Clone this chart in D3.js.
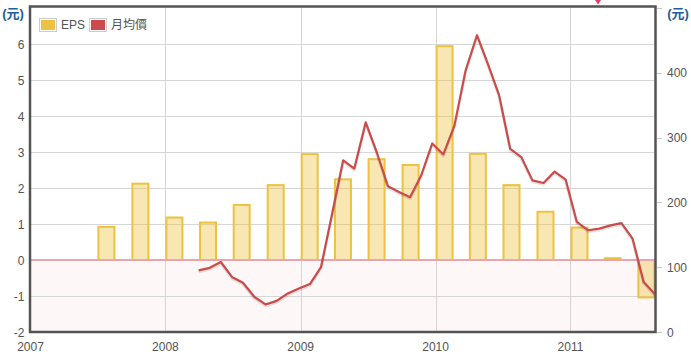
<!DOCTYPE html>
<html>
<head>
<meta charset="utf-8">
<script src="https://cdn.jsdelivr.net/npm/d3@7"></script>
<style>
  html, body { margin: 0; padding: 0; background: #fff; }
  svg { display: block; }
  text { font-family: "Liberation Sans", Arial, sans-serif; }
</style>
</head>
<body>
<svg id="chart" width="691" height="358"></svg>
<script>
// ---- data ----
const quarterStarts = ["2007-07-01","2007-10-01","2008-01-01","2008-04-01","2008-07-01","2008-10-01",
  "2009-01-01","2009-04-01","2009-07-01","2009-10-01","2010-01-01","2010-04-01","2010-07-01",
  "2010-10-01","2011-01-01","2011-04-01","2011-07-01"];
const epsValues = [0.92, 2.12, 1.18, 1.04, 1.53, 2.08, 2.94, 2.24, 2.80, 2.64, 5.94, 2.95, 2.08, 1.34, 0.90, 0.05, -1.04];

const priceDates = ["2008-03-31","2008-04-30","2008-05-30","2008-06-29","2008-07-29","2008-08-29",
  "2008-09-28","2008-10-28","2008-11-27","2008-12-27","2009-01-26","2009-02-25","2009-03-27",
  "2009-04-26","2009-05-26","2009-06-26","2009-07-26","2009-08-25","2009-09-24","2009-10-24",
  "2009-11-23","2009-12-23","2010-01-22","2010-02-21","2010-03-23","2010-04-23","2010-05-23",
  "2010-06-22","2010-07-22","2010-08-21","2010-09-20","2010-10-20","2010-11-19","2010-12-19",
  "2011-01-18","2011-02-18","2011-03-20","2011-04-19","2011-05-19","2011-06-18","2011-07-18",
  "2011-08-17"];
const priceValues = [95, 99, 108, 85, 76, 54, 42.5, 48, 59.5, 67, 74, 100, 182, 265, 252, 323.5,
  277, 225, 216, 208, 241.5, 291, 274, 318.5, 403, 458, 413, 365, 282.5, 270, 234, 230, 247.5,
  235, 170, 157, 159.5, 164.5, 168, 144, 77, 58.5];

const xTickYears = ["2007","2008","2009","2010","2011"];
const leftTicks = [-2, -1, 0, 1, 2, 3, 4, 5, 6];
const rightTicks = [0, 100, 200, 300, 400];
const rightTickMarks = [0, 100, 200, 300, 400, 500];
const unitLabel = "(元)";
const legendNames = ["EPS", "月均價"];

// ---- setup ----
const parse = d3.timeParse("%Y-%m-%d");
const svg = d3.select("#chart");
const L = 30.5, R = 655.5, T = 8, B = 332;

const x = d3.scaleTime().domain([parse("2007-01-01"), parse("2011-08-19")]).range([L, R]);
const yL = d3.scaleLinear().domain([-2, 7]).range([B, T]);
const yR = d3.scaleLinear().domain([0, 500]).range([B, T]);

const epsColor = "#edc240", priceColor = "#cb4b4b", axisColor = "#545454";

svg.append("defs").append("clipPath").attr("id", "plotclip")
  .append("rect").attr("x", L).attr("y", T - 2).attr("width", R - L).attr("height", B - T + 2);

const plot = svg.append("g").attr("clip-path", "url(#plotclip)");

// negative region marking
plot.append("rect")
  .attr("x", L).attr("width", R - L)
  .attr("y", yL(0)).attr("height", yL(-2) - yL(0))
  .attr("fill", "#fdf7f8");

// grid lines
plot.append("g").selectAll("line").data(leftTicks.filter(d => d > -2 && d !== 0))
  .join("line")
  .attr("x1", L).attr("x2", R)
  .attr("y1", d => Math.round(yL(d)) + 0.5).attr("y2", d => Math.round(yL(d)) + 0.5)
  .attr("stroke", "#d6d6d6").attr("stroke-width", 1);
plot.append("g").selectAll("line").data(xTickYears.slice(1))
  .join("line")
  .attr("x1", d => Math.round(x(parse(d + "-01-01"))) + 0.5)
  .attr("x2", d => Math.round(x(parse(d + "-01-01"))) + 0.5)
  .attr("y1", T).attr("y2", B)
  .attr("stroke", "#d6d6d6").attr("stroke-width", 1);

// bars
const barData = quarterStarts.map((q, i) => ({ d: parse(q), v: epsValues[i] }));
plot.append("g").selectAll("rect").data(barData).join("rect")
  .attr("x", d => x(d.d) + 1)
  .attr("width", 16)
  .attr("y", d => Math.min(yL(d.v), yL(0)))
  .attr("height", d => Math.abs(yL(d.v) - yL(0)))
  .attr("fill", epsColor).attr("fill-opacity", 0.4)
  .attr("stroke", epsColor).attr("stroke-width", 2);

// zero line marking
plot.append("line")
  .attr("x1", L).attr("x2", R)
  .attr("y1", yL(0)).attr("y2", yL(0))
  .attr("stroke", "#e8a5ad").attr("stroke-width", 2);

// price line
const priceData = priceDates.map((s, i) => ({ d: parse(s), v: priceValues[i] }));
const lineGen = d3.line().x(d => x(d.d)).y(d => yR(d.v));
plot.append("path").datum(priceData)
  .attr("d", lineGen)
  .attr("transform", "translate(0,1.5)")
  .attr("fill", "none").attr("stroke", "rgba(0,0,0,0.1)").attr("stroke-width", 3)
  .attr("stroke-linejoin", "round");
plot.append("path").datum(priceData)
  .attr("d", lineGen)
  .attr("fill", "none").attr("stroke", priceColor).attr("stroke-width", 2.2)
  .attr("stroke-linejoin", "round");

// border
svg.append("rect")
  .attr("x", 30).attr("y", 6.5).attr("width", 655.5 - 30).attr("height", 332 - 6.5)
  .attr("fill", "none").attr("stroke", axisColor).attr("stroke-width", 2.5);

// left axis labels
svg.append("g").selectAll("text").data(leftTicks).join("text")
  .attr("x", 24.5).attr("y", d => yL(d) + 4.5)
  .attr("text-anchor", "end").attr("font-size", 12).attr("fill", axisColor)
  .text(d => d);
svg.append("text").attr("x", 13).attr("y", 18)
  .attr("text-anchor", "middle").attr("font-size", 13).attr("font-weight", "bold")
  .attr("fill", "#1f5d9b")
  .style("font-family", "'Liberation Sans','Noto Sans CJK TC',sans-serif")
  .text(unitLabel);

// right axis
svg.append("g").selectAll("line").data(rightTickMarks).join("line")
  .attr("x1", 657).attr("x2", 662)
  .attr("y1", d => Math.round(yR(d)) + 0.5).attr("y2", d => Math.round(yR(d)) + 0.5)
  .attr("stroke", "#c8c8c8").attr("stroke-width", 1);
svg.append("g").selectAll("text").data(rightTicks).join("text")
  .attr("x", 667).attr("y", d => yR(d) + 4.5)
  .attr("text-anchor", "start").attr("font-size", 12).attr("fill", axisColor)
  .text(d => d);
svg.append("text").attr("x", 678).attr("y", 18)
  .attr("text-anchor", "middle").attr("font-size", 13).attr("font-weight", "bold")
  .attr("fill", "#1f5d9b")
  .style("font-family", "'Liberation Sans','Noto Sans CJK TC',sans-serif")
  .text(unitLabel);

// x axis labels
svg.append("g").selectAll("text").data(xTickYears).join("text")
  .attr("x", d => x(parse(d + "-01-01")))
  .attr("y", 351)
  .attr("text-anchor", "middle").attr("font-size", 12).attr("fill", axisColor)
  .text(d => d);

// legend
const legendColors = [epsColor, priceColor];
const lg = svg.append("g");
let lx = 39;
legendNames.forEach((name, i) => {
  lg.append("rect").attr("x", lx + 0.5).attr("y", 18.5).attr("width", 17).attr("height", 13)
    .attr("fill", "#fff").attr("stroke", "#cccccc").attr("stroke-width", 1);
  lg.append("rect").attr("x", lx + 2).attr("y", 20).attr("width", 14).attr("height", 10)
    .attr("fill", legendColors[i]);
  const t = lg.append("text").attr("x", lx + 22).attr("y", 29)
    .attr("font-size", 12).attr("fill", axisColor)
    .style("font-family", "'Liberation Sans','Noto Sans CJK TC',sans-serif")
    .text(name);
  lx += 50;
});

// top marker
svg.append("path")
  .attr("d", d3.line()([[595, 0], [601, 0], [598, 4.5]]) + "Z")
  .attr("fill", "#ee3a62");
</script>
</body>
</html>
